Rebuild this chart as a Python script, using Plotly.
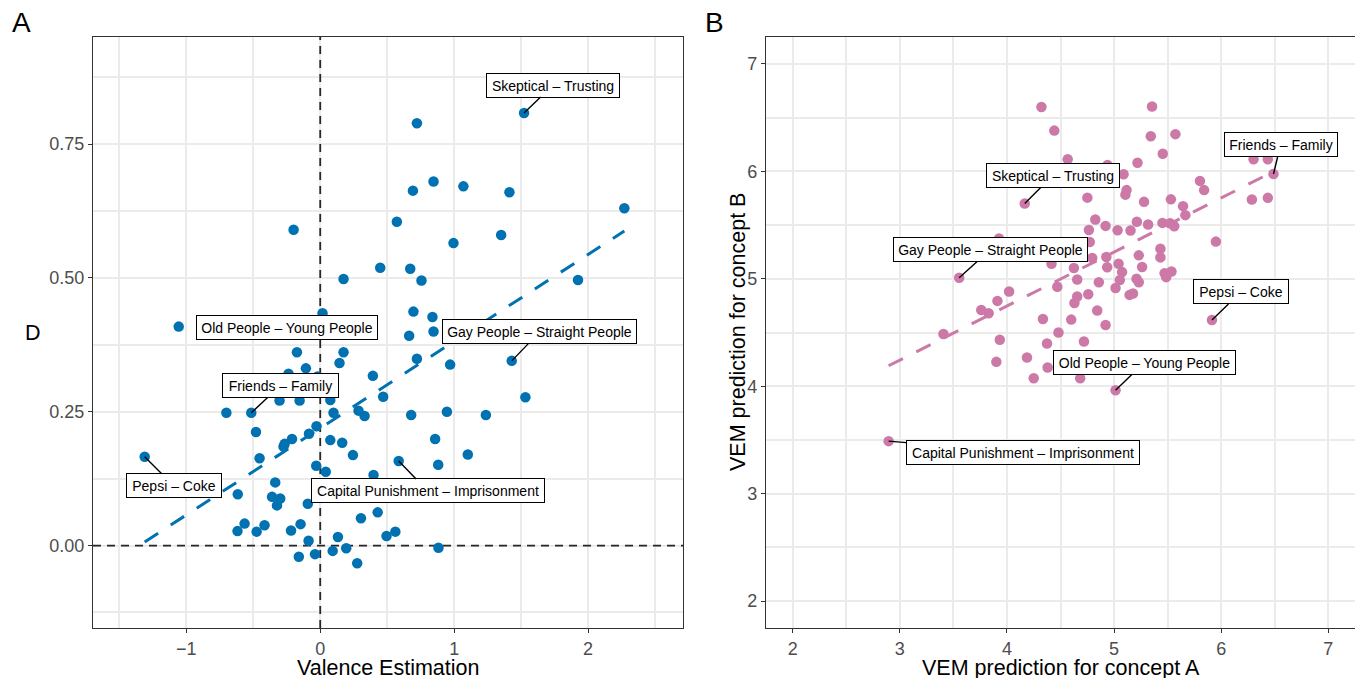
import numpy as np
import plotly.graph_objects as go

# ---------------- data ----------------
# Panel A: valence estimation (x) vs D (y)
valence_x = [1.522, 0.722, 0.692, 0.846, 1.069, 1.413, 2.271, -0.199, 0.572, 0.995,
             1.351, 0.448, 0.672, 0.174, 0.756, 1.925, 0.017, 0.696, 0.838, -1.057,
             0.664, 0.846, -0.174, 0.174, 0.144, 0.722, 0.970, 1.430, -0.107, -0.237,
             -0.020, 0.393, 0.470, 1.532, -0.304, -0.154, 0.075, -0.701, -0.515, 0.099,
             0.286, 0.331, 0.679, 0.946, 1.237, -0.028, -0.480, -0.084, -0.211, -0.266,
             -0.274, 0.075, 0.164, 0.858, 0.244, -0.453, 1.102, -1.311, 0.586, -0.030,
             0.041, 0.881, 0.398, -0.336, -0.616, -0.360, -0.299, -0.323, -0.093, 0.304,
             0.429, -0.565, -0.618, -0.475, -0.416, -0.218, -0.147, -0.087, 0.132, 0.495,
             0.561, 0.883, -0.160, -0.039, 0.093, 0.194, 0.276]
d_values = [0.808, 0.789, 0.663, 0.680, 0.671, 0.660, 0.630, 0.590, 0.605, 0.565,
            0.580, 0.519, 0.517, 0.498, 0.495, 0.496, 0.434, 0.437, 0.427, 0.409,
            0.392, 0.400, 0.361, 0.361, 0.341, 0.349, 0.338, 0.345, 0.331, 0.321,
            0.316, 0.317, 0.278, 0.277, 0.271, 0.271, 0.272, 0.248, 0.248, 0.248,
            0.252, 0.242, 0.244, 0.250, 0.244, 0.223, 0.212, 0.209, 0.199, 0.190,
            0.185, 0.197, 0.192, 0.199, 0.169, 0.163, 0.170, 0.166, 0.158, 0.149,
            0.138, 0.151, 0.132, 0.118, 0.096, 0.091, 0.088, 0.075, 0.078, 0.051,
            0.062, 0.041, 0.027, 0.026, 0.038, 0.028, 0.040, 0.009, 0.016, 0.018,
            0.026, -0.004, -0.021, -0.016, -0.010, -0.005, -0.033]

# Panel B: VEM prediction for concept A (x) vs concept B (y)
vem_a = [4.322, 5.355, 4.442, 5.343, 5.573, 5.455, 4.567, 4.939, 5.219, 5.089,
         6.303, 6.436, 6.489, 5.117, 5.106, 5.802, 5.841, 4.751, 5.280, 5.531,
         5.644, 5.666, 6.287, 6.436, 4.166, 4.825, 4.921, 4.765, 5.033, 5.213,
         5.318, 5.154, 5.452, 5.523, 5.562, 3.926, 5.951, 4.773, 4.416, 4.796,
         4.928, 4.936, 5.231, 5.262, 5.433, 5.433, 4.625, 5.042, 5.075, 5.472,
         5.536, 5.487, 3.554, 4.470, 4.656, 4.858, 5.210, 5.231, 5.054, 5.014,
         4.759, 4.656, 4.630, 5.145, 5.177, 4.020, 3.911, 3.760, 3.829, 4.336,
         4.600, 4.843, 4.921, 4.481, 3.407, 3.933, 4.374, 4.719, 3.901, 4.187,
         4.380, 4.250, 4.684, 5.914, 5.014, 2.895]
vem_b = [6.598, 6.604, 6.379, 6.327, 6.346, 6.164, 6.112, 6.059, 6.080, 5.973,
         6.112, 6.112, 5.975, 5.825, 5.783, 5.911, 5.825, 5.755, 5.716, 5.739,
         5.676, 5.592, 5.738, 5.753, 5.701, 5.551, 5.492, 5.454, 5.451, 5.531,
         5.505, 5.449, 5.520, 5.517, 5.489, 5.374, 5.346, 5.342, 5.140, 5.194,
         5.202, 5.108, 5.218, 5.110, 5.280, 5.199, 5.101, 5.140, 5.062, 5.051,
         5.068, 5.015, 5.009, 4.925, 4.993, 4.968, 5.000, 4.968, 4.989, 4.914,
         4.856, 4.835, 4.774, 4.850, 4.863, 4.881, 4.794, 4.710, 4.679, 4.626,
         4.620, 4.704, 4.570, 4.500, 4.486, 4.433, 4.398, 4.417, 4.227, 4.267,
         4.174, 4.075, 4.075, 4.617, 3.963, 3.489]

label_names = ["Skeptical – Trusting", "Old People – Young People", "Friends – Family",
               "Gay People – Straight People", "Pepsi – Coke",
               "Capital Punishment – Imprisonment"]
label_idx_a = [0, 19, 38, 27, 57, 58]
label_idx_b = [24, 84, 12, 52, 83, 85]

x_ticks_a = [-1, 0, 1, 2]
x_ticktext_a = ["\u22121", "0", "1", "2"]
y_ticks_a = [0.0, 0.25, 0.5, 0.75]
y_ticktext_a = ["0.00", "0.25", "0.50", "0.75"]
ticks_b = [2, 3, 4, 5, 6, 7]
ref_zero = 0

# ---------------- styles ----------------
# the page body has an 8px margin, so the figure is drawn 8px smaller and
# all layout positions below are in figure pixels (page pixels minus 8)
W, H = 1355, 671
BLUE = "#0072B2"
PINK = "#CC79A7"
FONT = "Liberation Sans, Arial, Helvetica, sans-serif"
GRID = "#EBEBEB"

xa_range = [-1.697, 2.709]
ya_range = [-0.154, 0.950]
b_range = [1.75, 7.25]

# label offsets (pixels from point to label-box centre), box widths, arrow visibility
label_style_a = [(29, -28, 134, True), (108, 1, 182, False), (29, -27, 117, True),
                 (28, -29, 195, True), (29, 29, 96, True), (29, 30, 234, True)]
label_style_b = [(28, -28, 134, True), (29, -28, 183, True), (7, -29, 114, True),
                 (31, -28, 195, True), (29, -28, 96, True), (134, 11, 234, True)]

# pixel boxes of the two panels (figure pixels)
pa = dict(l=85, r=675, t=29, b=620)
pb = dict(l=758, r=1347, t=29, b=620)


def dom(p):
    return [p["l"] / W, p["r"] / W], [1 - p["b"] / H, 1 - p["t"] / H]


fig = go.Figure()

# zero reference lines in panel A (drawn first so points sit on top)
zl = dict(color="#262626", width=1.8, dash="8px,6px")
fig.add_trace(go.Scatter(x=[ref_zero, ref_zero], y=ya_range, mode="lines", line=zl,
                         xaxis="x", yaxis="y", showlegend=False, hoverinfo="skip"))
fig.add_trace(go.Scatter(x=xa_range, y=[ref_zero, ref_zero], mode="lines", line=zl,
                         xaxis="x", yaxis="y", showlegend=False, hoverinfo="skip"))

# Panel A points
fig.add_trace(go.Scatter(x=valence_x, y=d_values, mode="markers",
                         marker=dict(color=BLUE, size=10.5, line=dict(width=0)),
                         xaxis="x", yaxis="y", showlegend=False, hoverinfo="skip"))
ca = np.polyfit(valence_x, d_values, 1)
xa_line = np.array([min(valence_x), max(valence_x)])
fig.add_trace(go.Scatter(x=xa_line, y=np.polyval(ca, xa_line), mode="lines",
                         line=dict(color=BLUE, width=3, dash="16px,15px"),
                         xaxis="x", yaxis="y", showlegend=False, hoverinfo="skip"))

# Panel B points
fig.add_trace(go.Scatter(x=vem_a, y=vem_b, mode="markers",
                         marker=dict(color=PINK, size=10.5, line=dict(width=0)),
                         xaxis="x2", yaxis="y2", showlegend=False, hoverinfo="skip"))
cb = np.polyfit(vem_a, vem_b, 1)
xb_line = np.array([min(vem_a), max(vem_a)])
fig.add_trace(go.Scatter(x=xb_line, y=np.polyval(cb, xb_line), mode="lines",
                         line=dict(color=PINK, width=3, dash="16px,15px"),
                         xaxis="x2", yaxis="y2", showlegend=False, hoverinfo="skip"))

annotations = []


def add_labels(idx_list, styles, xs, ys, xref, yref):
    for name, idx, (ax, ay, bw, arrow) in zip(label_names, idx_list, styles):
        annotations.append(dict(
            x=xs[idx], y=ys[idx], xref=xref, yref=yref, text=name,
            showarrow=True, ax=ax, ay=ay, axref="pixel", ayref="pixel",
            arrowhead=0, arrowwidth=1.4,
            arrowcolor="black" if arrow else "rgba(0,0,0,0)",
            font=dict(family=FONT, size=14, color="black"),
            bgcolor="white", bordercolor="black", borderwidth=1, borderpad=3,
            width=bw - 8, height=17, align="center", valign="middle"))


add_labels(label_idx_a, label_style_a, valence_x, d_values, "x", "y")
add_labels(label_idx_b, label_style_b, vem_a, vem_b, "x2", "y2")

title_font = dict(family=FONT, size=21.5, color="black")
annotations += [
    dict(text="Valence Estimation", x=(pa["l"] + pa["r"]) / 2 / W, y=1 - 659.5 / H,
         xref="paper", yref="paper", showarrow=False, font=title_font,
         xanchor="center", yanchor="middle", height=21, valign="middle"),
    dict(text="D", x=25 / W, y=1 - 325 / H, xref="paper", yref="paper",
         showarrow=False, font=title_font, xanchor="center", yanchor="middle"),
    dict(text="VEM prediction for concept A", x=(pb["l"] + pb["r"]) / 2 / W,
         y=1 - 659.5 / H, xref="paper", yref="paper", showarrow=False,
         font=title_font, xanchor="center", yanchor="middle", height=21,
         valign="middle"),
    dict(text="VEM prediction for concept B", x=730 / W, y=1 - 324 / H,
         xref="paper", yref="paper", showarrow=False, font=title_font,
         textangle=-90, xanchor="center", yanchor="middle"),
    dict(text="A", x=13 / W, y=1 - 14 / H, xref="paper", yref="paper",
         showarrow=False, font=dict(family=FONT, size=28, color="black"),
         xanchor="center", yanchor="middle"),
    dict(text="B", x=706 / W, y=1 - 14 / H, xref="paper", yref="paper",
         showarrow=False, font=dict(family=FONT, size=28, color="black"),
         xanchor="center", yanchor="middle"),
]

tick_font = dict(family=FONT, size=18, color="#4D4D4D")
axis_common = dict(showline=True, mirror=True, linecolor="#333333", linewidth=1.3,
                   ticks="outside", ticklen=4, tickwidth=1.3, tickcolor="#333333",
                   showgrid=True, gridcolor=GRID, gridwidth=2, zeroline=False,
                   tickfont=tick_font, fixedrange=True, automargin=False)

dxa, dya = dom(pa)
dxb, dyb = dom(pb)

minor_grid = dict(showgrid=True, gridcolor=GRID, gridwidth=1.7, ticks="")

fig.update_layout(
    width=W, height=H, margin=dict(l=0, r=0, t=0, b=0, autoexpand=False),
    paper_bgcolor="white", plot_bgcolor="white",
    font=dict(family=FONT),
    xaxis=dict(domain=dxa, range=xa_range, tickmode="array",
               tickvals=x_ticks_a, ticktext=x_ticktext_a, anchor="y",
               minor=dict(tick0=-1.5, dtick=1, **minor_grid),
               **axis_common),
    yaxis=dict(domain=dya, range=ya_range, tickmode="array",
               tickvals=y_ticks_a, ticktext=y_ticktext_a, anchor="x",
               minor=dict(tick0=-0.125, dtick=0.25, **minor_grid),
               **axis_common),
    xaxis2=dict(domain=dxb, range=b_range, tickmode="array",
                tickvals=ticks_b, anchor="y2",
                minor=dict(tick0=1.5, dtick=1, **minor_grid),
                **axis_common),
    yaxis2=dict(domain=dyb, range=b_range, tickmode="array",
                tickvals=ticks_b, anchor="x2",
                minor=dict(tick0=1.5, dtick=1, **minor_grid),
                **axis_common),
    annotations=annotations,
)

fig.write_html("out.html")
